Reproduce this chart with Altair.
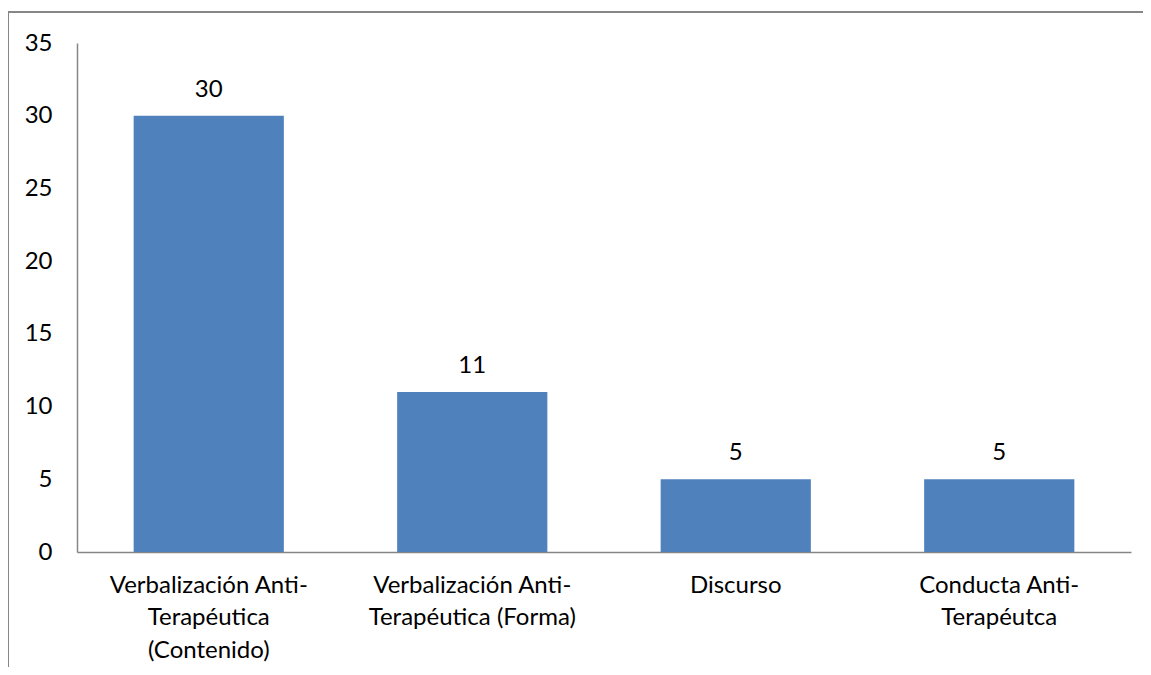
import altair as alt
import pandas as pd

categories = [
    "Verbalización Anti-\nTerapéutica\n(Contenido)",
    "Verbalización Anti-\nTerapéutica (Forma)",
    "Discurso",
    "Conducta Anti-\nTerapéutca",
]
values = [30, 11, 5, 5]
y_ticks = [0, 5, 10, 15, 20, 25, 30, 35]

df = pd.DataFrame({"cat": categories, "val": values})

FONT = "Lato"
FS = 24
W, H = 1054, 509

x_enc = alt.X(
    "cat:N", sort=categories, title=None,
    scale=alt.Scale(paddingInner=0.43, paddingOuter=0.215),
    axis=alt.Axis(labelExpr="split(datum.label, '\\n')", labelAngle=0,
                  labelFontSize=FS, labelFont=FONT, labelColor="#000",
                  labelLineHeight=32.5, labelPadding=21, labelLimit=400, ticks=False,
                  domainColor="#868686", domainWidth=1.5, labelBaseline="top"),
)
y_enc = alt.Y(
    "val:Q", title=None,
    scale=alt.Scale(domain=[0, 35], nice=False),
    axis=alt.Axis(values=y_ticks, grid=False, ticks=False, labelFontSize=FS,
                  labelFont=FONT, labelColor="#000", labelPadding=25,
                  domainColor="#868686", domainWidth=1.5),
)

bars = alt.Chart(df).mark_bar(color="#4F81BD").encode(x=x_enc, y=y_enc)
texts = alt.Chart(df).mark_text(dy=-26, fontSize=FS, font=FONT, color="#000").encode(
    x=alt.X("cat:N", sort=categories), y="val:Q", text="val:Q")

border_top = alt.Chart(df).mark_rule(color="#868686", strokeWidth=2).encode(
    x=alt.value(-69), x2=alt.value(1070), y=alt.value(-31))
border_left = alt.Chart(df).mark_rule(color="#868686", strokeWidth=2).encode(
    x=alt.value(-69), y=alt.value(-31), y2=alt.value(640))

chart = alt.layer(bars, texts, border_top, border_left).properties(
    width=W, height=H,
    padding={"left": 69, "top": 35, "right": 12, "bottom": 115},
    autosize=alt.AutoSizeParams(type="none"),
).configure(background="white", view=alt.ViewConfig(strokeWidth=0, stroke="transparent"))

chart.save("out.html", embed_options={"renderer": "svg", "actions": False})
